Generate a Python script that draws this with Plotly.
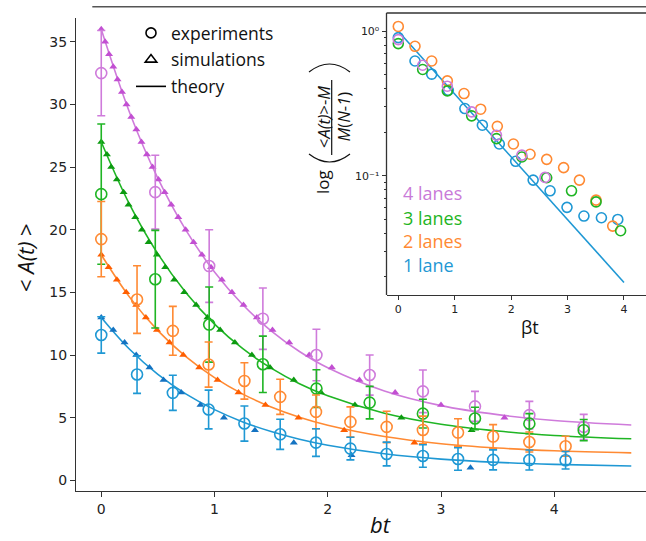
import plotly.graph_objects as go

# ---------------- main panel data ----------------
# experiments (open circles with error bars)
exp_t_34 = [0, 0.477, 0.953, 1.427, 1.90, 2.37, 2.84, 3.30, 3.78, 4.26]
exp_t_12 = [0, 0.316, 0.632, 0.948, 1.264, 1.58, 1.896, 2.20, 2.52, 2.84, 3.15, 3.46, 3.78, 4.10]

exp_4 = [32.5, 23.0, 17.1, 12.9, 10.0, 8.4, 7.1, 5.9, 5.2, 4.26]
err_4 = [3.4, 2.95, 2.9, 2.45, 2.05, 1.6, 1.7, 1.2, 1.1, 1.0]
exp_3 = [22.84, 16.05, 12.43, 9.26, 7.32, 6.2, 5.32, 4.93, 4.52, 4.0]
err_3 = [5.6, 3.9, 3.0, 2.25, 1.5, 1.3, 1.15, 0.9, 0.8, 0.85]
exp_2 = [19.25, 14.43, 11.93, 9.24, 7.93, 6.66, 5.46, 4.66, 4.26, 4.02, 3.81, 3.49, 3.06, 2.72]
err_2 = [3.0, 2.7, 1.95, 1.8, 1.45, 1.4, 1.35, 1.2, 1.25, 1.1, 1.1, 0.95, 0.8, 0.8]
exp_1 = [11.6, 8.44, 6.98, 5.65, 4.53, 3.67, 3.01, 2.53, 2.1, 1.94, 1.7, 1.63, 1.62, 1.60]
err_1 = [1.45, 1.5, 1.4, 1.55, 1.4, 1.2, 1.1, 0.9, 0.95, 0.9, 0.9, 0.8, 0.8, 0.7]

# simulations (filled triangles)
sim_t_4 = [0, 0.034, 0.069, 0.106, 0.144, 0.183, 0.223, 0.265, 0.310, 0.355, 0.403,
           0.453, 0.505, 0.56, 0.618, 0.68, 0.745, 0.815, 0.889, 0.969, 1.065, 1.154,
           1.256, 1.374, 1.512, 1.66, 1.836, 2.036, 2.28, 2.595, 3.0, 3.56]
sim_4 = [36, 35, 34, 33, 32, 31, 30, 29, 28, 27, 26, 25, 24, 23, 22, 21, 20, 19, 18,
         17, 16, 15, 14, 13, 12, 11, 10, 9, 8, 7, 6, 5]
sim_t_3 = [0, 0.05, 0.088, 0.138, 0.197, 0.241, 0.30, 0.359, 0.418, 0.491, 0.565, 0.644,
           0.733, 0.838, 0.938, 1.05, 1.18, 1.33, 1.49, 1.70, 1.94, 2.24, 2.65, 3.27]
sim_3 = [27, 26, 25, 24, 23, 22, 21, 20, 19, 18, 17, 16, 15, 14, 13, 12, 11, 10, 9, 8,
         7, 6, 5, 4]
sim_t_2 = [0, 0.065, 0.138, 0.22, 0.309, 0.394, 0.492, 0.603, 0.724, 0.865, 1.027,
           1.212, 1.45, 1.742, 2.145, 2.765]
sim_2 = [18, 17, 16, 15, 14, 13, 12, 11, 10, 9, 8, 7, 6, 5, 4, 3]
sim_t_1 = [0, 0.106, 0.206, 0.309, 0.426, 0.55, 0.706, 0.876, 1.083, 1.357, 1.70, 2.21, 3.26]
sim_1 = [13, 12, 11, 10, 9, 8, 7, 6, 5, 4, 3, 2, 1]

# theory curves
th_t = [0, 0.25, 0.5, 0.75, 1, 1.25, 1.5, 1.75, 2, 2.5, 3, 3.5, 4, 4.68]
th_4 = [36, 29.36, 24.10, 19.93, 16.63, 14.01, 11.93, 10.28, 8.98, 7.13, 5.96, 5.24, 4.77, 4.41]
th_3 = [27, 22.02, 18.07, 14.95, 12.47, 10.50, 8.95, 7.71, 6.74, 5.35, 4.47, 3.93, 3.58, 3.31]
th_2 = [18, 14.62, 11.95, 9.85, 8.19, 6.88, 5.85, 5.03, 4.39, 3.49, 2.92, 2.58, 2.36, 2.19]
th_1 = [13, 10.46, 8.46, 6.88, 5.64, 4.66, 3.89, 3.28, 2.80, 2.12, 1.69, 1.43, 1.27, 1.14]

# ---------------- inset data (normalised, log scale) ----------------
in_t_1 = [0, 0.296, 0.592, 0.887, 1.18, 1.49, 1.79, 2.08, 2.39, 2.69, 2.99, 3.29, 3.60, 3.89]
in_1 = [0.904, 0.623, 0.505, 0.391, 0.292, 0.224, 0.166, 0.126, 0.0934, 0.0788, 0.0605,
        0.0527, 0.0513, 0.0499]
in_t_2 = [0, 0.296, 0.592, 0.869, 1.165, 1.46, 1.755, 2.04, 2.335, 2.63, 2.93, 3.21, 3.505, 3.80]
in_2 = [1.08, 0.787, 0.623, 0.454, 0.371, 0.289, 0.22, 0.166, 0.141, 0.130, 0.114, 0.0934,
        0.0679, 0.0449]
in_t_3 = [0, 0.432, 0.869, 1.30, 1.74, 2.19, 2.63, 3.07, 3.505, 3.94]
in_3 = [0.822, 0.544, 0.387, 0.26, 0.181, 0.135, 0.097, 0.0788, 0.066, 0.0417]
in_t_4 = [0, 0.432, 0.869, 1.30, 1.74, 2.19, 2.60]
in_4 = [0.876, 0.582, 0.417, 0.277, 0.191, 0.139, 0.0975]
in_line_t = [0, 4]
in_line = [1.0, 0.0183]

lane_labels = ["4 lanes", "3 lanes", "2 lanes", "1 lane"]

# ---------------- colours ----------------
PURPLE, PURPLE_S = "#cf7bdb", "#c24fd2"
GREEN, GREEN_S = "#1fb524", "#0c9a10"
ORANGE, ORANGE_S = "#ff8a33", "#ff5e00"
BLUE, BLUE_S = "#1f98d4", "#1473c2"
AX = "#333333"

fig = go.Figure()

series = [
    (th_t, th_4, sim_t_4, sim_4, exp_t_34, exp_4, err_4, PURPLE, PURPLE_S),
    (th_t, th_3, sim_t_3, sim_3, exp_t_34, exp_3, err_3, GREEN, GREEN_S),
    (th_t, th_2, sim_t_2, sim_2, exp_t_12, exp_2, err_2, ORANGE, ORANGE_S),
    (th_t, th_1, sim_t_1, sim_1, exp_t_12, exp_1, err_1, BLUE, BLUE_S),
]

for tt, ty, st, sy, et, ey, ee, c, cs in series:
    fig.add_trace(go.Scatter(x=tt, y=ty, mode="lines", line=dict(color=c, width=1.6, shape="spline"),
                             showlegend=False, hoverinfo="skip"))
for tt, ty, st, sy, et, ey, ee, c, cs in series:
    fig.add_trace(go.Scatter(x=st, y=sy, mode="markers",
                             marker=dict(symbol="triangle-up", size=7, color=cs, line=dict(width=0)),
                             showlegend=False))
for tt, ty, st, sy, et, ey, ee, c, cs in series:
    fig.add_trace(go.Scatter(x=et, y=ey, mode="markers",
                             marker=dict(symbol="circle-open", size=11, color=c, line=dict(width=1.6)),
                             error_y=dict(type="data", array=ee, color=c, thickness=1.6, width=4),
                             showlegend=False))

# legend entries (black keys)
fig.add_trace(go.Scatter(x=[None], y=[None], mode="markers", name="experiments",
                         marker=dict(symbol="circle-open", size=10, color="black", line=dict(width=1.6)),
                         legendgroup="a"))
fig.add_trace(go.Scatter(x=[None], y=[None], mode="markers", name="simulations",
                         marker=dict(symbol="triangle-up-open", size=10, color="black", line=dict(width=1.6)),
                         legendgroup="b"))
fig.add_trace(go.Scatter(x=[None], y=[None], mode="lines", name="theory",
                         line=dict(color="black", width=1.6), legendgroup="c"))

# inset traces
fig.add_trace(go.Scatter(x=in_line_t, y=in_line, mode="lines", line=dict(color=BLUE, width=1.6),
                         xaxis="x2", yaxis="y2", showlegend=False))
for tx, ty, c in [(in_t_1, in_1, BLUE), (in_t_2, in_2, ORANGE), (in_t_3, in_3, GREEN), (in_t_4, in_4, PURPLE)]:
    fig.add_trace(go.Scatter(x=tx, y=ty, mode="markers", xaxis="x2", yaxis="y2", showlegend=False,
                             marker=dict(symbol="circle-open", size=10, color=c, line=dict(width=1.6))))

L, T, B, W, H = 76, 13, 50, 646, 541
R = 0
PW, PH = W - L - R, H - T - B


def px(xp):
    return (xp - L) / PW


def py(yp):
    return (H - B - yp) / PH


tickfont = dict(family="DejaVu Sans", size=14, color="#222")
fig.update_layout(
    width=W, height=H, margin=dict(l=L, r=R, t=T, b=B),
    paper_bgcolor="white", plot_bgcolor="white",
    font=dict(family="Open Sans", color="#111"),
    xaxis=dict(domain=[0, 1], range=[-0.223, 4.81], anchor="y", showgrid=False, zeroline=False,
               showline=True, linecolor=AX, linewidth=1.3, ticks="outside", ticklen=5, tickwidth=1.2,
               tickcolor=AX, tickvals=[0, 1, 2, 3, 4], tickfont=tickfont),
    yaxis=dict(domain=[0, py(18)], range=[-0.855, 36.9], anchor="x", showgrid=False, zeroline=False,
               showline=True, linecolor=AX, linewidth=1.3, ticks="outside", ticklen=5, tickwidth=1.2,
               tickcolor=AX, tickvals=[0, 5, 10, 15, 20, 25, 30, 35], tickfont=tickfont),
    xaxis2=dict(domain=[px(386.5), 1], range=[-0.209, 4.39], anchor="y2", showgrid=False,
                zeroline=False, showline=True, mirror=False, linecolor=AX, linewidth=1.3,
                ticks="outside", ticklen=4, tickwidth=1, tickcolor=AX, tickvals=[0, 1, 2, 3, 4],
                tickfont=dict(family="DejaVu Sans", size=11, color="#222")),
    yaxis2=dict(domain=[py(295), 1], type="log", range=[-1.8245, 0.1265], anchor="x2",
                showgrid=False, zeroline=False, showline=False,
                ticks="outside", ticklen=4, tickwidth=1, tickcolor=AX,
                tickvals=[0.1, 1], ticktext=["10\u207b\u00b9", "10\u2070"],
                tickfont=dict(family="DejaVu Sans", size=11, color="#222"),
                minor=dict(ticks="outside", ticklen=2, tickwidth=0.8, tickcolor=AX, showgrid=False,
                           dtick="D1")),
    legend=dict(x=px(131), y=py(15), xanchor="left", yanchor="top", bgcolor="rgba(255,255,255,0)",
                font=dict(family="Open Sans", size=17.5, color="#111"), tracegroupgap=1,
                itemwidth=30),
)

ann = []
# axis titles
ann.append(dict(text="< <i>A(t)</i> >", x=px(25), y=py(258), textangle=-90, showarrow=False,
                xref="paper", yref="paper", xanchor="center", yanchor="middle",
                font=dict(size=22, family="Open Sans", color="#111")))
ann.append(dict(text="<i>bt</i>", x=px(380), y=py(524), showarrow=False, xref="paper", yref="paper",
                xanchor="center", yanchor="middle", font=dict(size=22, family="Open Sans", color="#111")))
ann.append(dict(text="\u03b2t", x=px(530), y=py(327), showarrow=False, xref="paper", yref="paper",
                xanchor="center", yanchor="middle", font=dict(size=18, family="Open Sans", color="#111")))
# inset y title: log( fraction )
for txt, xx, yy, sz in [("log", 322, 182, 17),
                        ("<<i>A(t)</i>>-<i>M</i>", 323, 117, 16.5),
                        ("<i>M</i>(<i>N</i>-<i>1</i>)", 342.5, 117, 16.5)]:
    ann.append(dict(text=txt, x=px(xx), y=py(yy), textangle=-90, showarrow=False, xref="paper",
                    yref="paper", xanchor="center", yanchor="middle",
                    font=dict(size=sz, family="Open Sans", color="#111")))
# lane labels in the inset
for lab, c, yy in zip(lane_labels, ["#c97ad8", GREEN, ORANGE, BLUE], [193, 218, 241, 265]):
    ann.append(dict(text=lab, x=px(401), y=py(yy), showarrow=False, xref="paper", yref="paper",
                    xanchor="left", yanchor="middle", font=dict(size=18, family="Open Sans", color=c)))
fig.update_layout(annotations=ann)


def arc(x0, x1, yend, yapex):
    """Thin bracket drawn as a quadratic curve in paper coordinates."""
    yc = 2 * yapex - yend
    xm = (x0 + x1) / 2
    return (f"M {px(x0)},{py(yend)} Q {px(xm)},{py(yc)} {px(x1)},{py(yend)}")


fig.update_layout(shapes=[
    # fraction bar
    dict(type="line", xref="paper", yref="paper", x0=px(331.7), x1=px(331.7), y0=py(80), y1=py(155),
         line=dict(color="#111", width=1.2)),
    # brackets around the fraction
    dict(type="path", xref="paper", yref="paper", path=arc(309, 350, 154, 162),
         line=dict(color="#111", width=1.2)),
    dict(type="path", xref="paper", yref="paper", path=arc(309, 350, 72, 64),
         line=dict(color="#111", width=1.2)),
    # inset frame: left edge and top edge
    dict(type="line", xref="paper", yref="paper", x0=px(386.5), x1=px(386.5), y0=py(295), y1=1,
         line=dict(color=AX, width=1.3)),
    dict(type="line", xref="paper", yref="paper", x0=px(386.5), x1=1.0, y0=1, y1=1,
         line=dict(color=AX, width=1.3)),
    # frame line along the top
    dict(type="line", xref="paper", yref="paper", x0=px(92.3), x1=1.0, y0=py(6.7), y1=py(6.7),
         line=dict(color="#555", width=1.5)),
])

fig.write_html("out.html", config={"displayModeBar": False})
